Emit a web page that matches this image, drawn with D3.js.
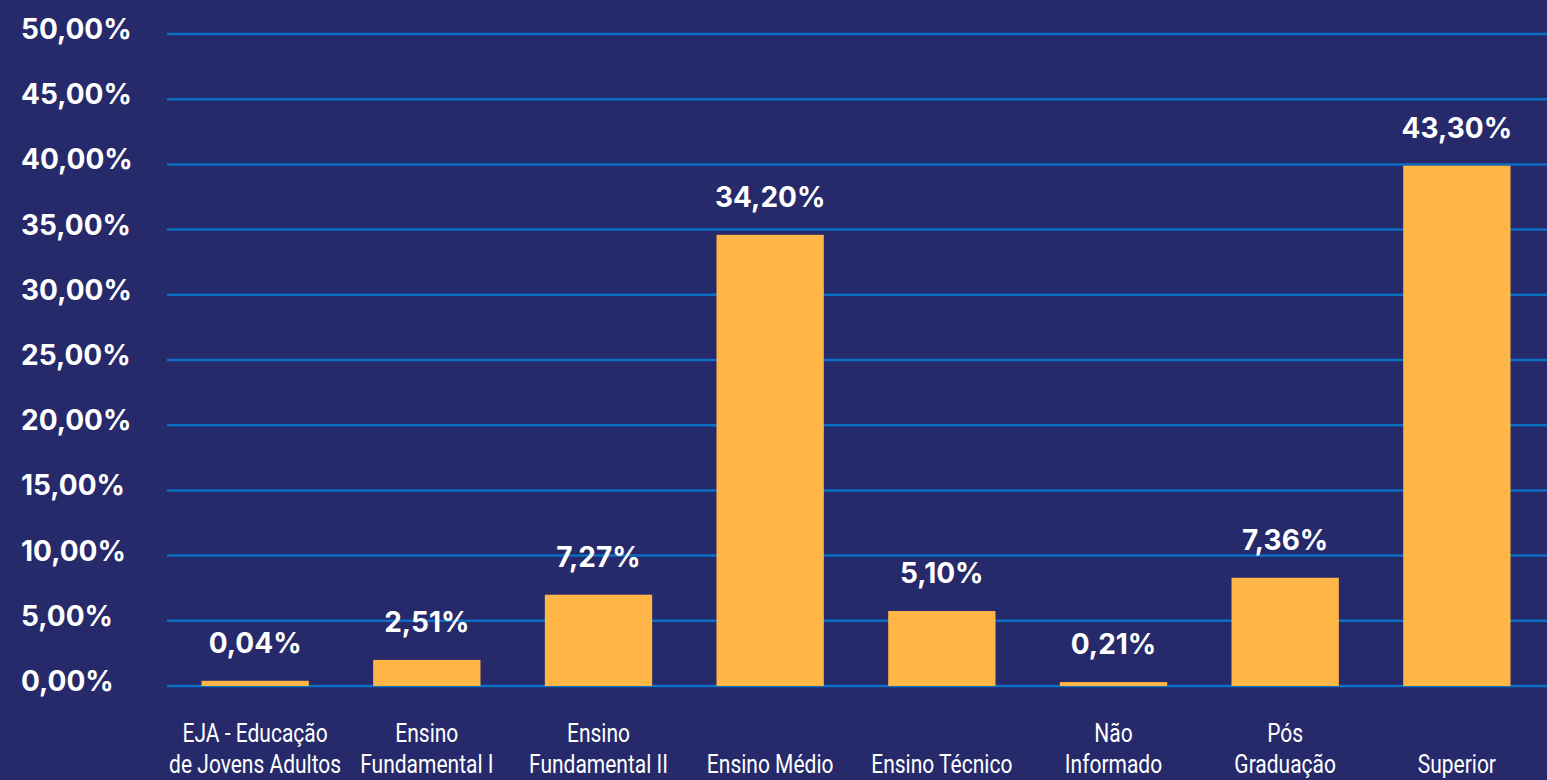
<!DOCTYPE html>
<html>
<head>
<meta charset="utf-8">
<script src="https://cdn.jsdelivr.net/npm/d3@7/dist/d3.min.js"></script>
<style>
  html, body { margin: 0; padding: 0; background: #262a6b; overflow: hidden; }
  svg { display: block; }
</style>
</head>
<body>
<svg id="chart" width="1547" height="780"></svg>
<script>
// ---- data ----
const categories = [
  "EJA - Educação de Jovens Adultos",
  "Ensino Fundamental I",
  "Ensino Fundamental II",
  "Ensino Médio",
  "Ensino Técnico",
  "Não Informado",
  "Pós Graduação",
  "Superior"
];
// category labels split into lines as shown
const categoryLines = [
  ["EJA - Educação", "de Jovens Adultos"],
  ["Ensino", "Fundamental I"],
  ["Ensino", "Fundamental II"],
  ["Ensino Médio"],
  ["Ensino Técnico"],
  ["Não", "Informado"],
  ["Pós", "Graduação"],
  ["Superior"]
];
// printed value labels
const valueLabels = ["0,04%", "2,51%", "7,27%", "34,20%", "5,10%", "0,21%", "7,36%", "43,30%"];
// bar heights as drawn in the picture (percent)
const barValues = [0.4, 2.0, 7.0, 34.6, 5.75, 0.3, 8.3, 39.9];
const yTicks = [0, 5, 10, 15, 20, 25, 30, 35, 40, 45, 50];
const yTickLabels = ["0,00%", "5,00%", "10,00%", "15,00%", "20,00%", "25,00%", "30,00%", "35,00%", "40,00%", "45,00%", "50,00%"];

// ---- layout ----
const W = 1547, H = 780;
const svg = d3.select("#chart");

const y = d3.scaleLinear().domain([0, 50]).range([686, 34]);
const x = d3.scaleBand().domain(categories).range([150, 1562]).paddingInner(0.375).paddingOuter(0.3);

// gridlines
svg.append("g").selectAll("line").data(yTicks).join("line")
  .attr("x1", 167).attr("x2", W)
  .attr("y1", d => y(d)).attr("y2", d => y(d))
  .attr("stroke", "#0b6fc2").attr("stroke-width", 2.5);

// y tick labels
svg.append("g").selectAll("text").data(yTicks).join("text")
  .attr("x", 21).attr("y", d => y(d) + 5)
  .attr("fill", "#ffffff")
  .attr("font-family", "Inter, 'Open Sans', sans-serif")
  .attr("font-weight", 700).attr("font-size", 28)
  .text((d, i) => yTickLabels[i]);

// bars
svg.append("g").selectAll("rect").data(categories).join("rect")
  .attr("x", d => x(d))
  .attr("width", x.bandwidth())
  .attr("y", (d, i) => y(barValues[i]))
  .attr("height", (d, i) => y(0) - y(barValues[i]))
  .attr("fill", "#ffb646");

// value labels
svg.append("g").selectAll("text").data(categories).join("text")
  .attr("x", d => x(d) + x.bandwidth() / 2)
  .attr("y", (d, i) => y(barValues[i]) - 28)
  .attr("text-anchor", "middle")
  .attr("fill", "#ffffff")
  .attr("font-family", "Inter, 'Open Sans', sans-serif")
  .attr("font-weight", 700).attr("font-size", 28)
  .text((d, i) => valueLabels[i]);

// category labels (bottom-aligned), condensed look via horizontal scaling
const sx = 0.84;
const cat = svg.append("g").attr("transform", `scale(${sx},1)`)
  .selectAll("text").data(categories).join("text")
  .attr("text-anchor", "middle")
  .attr("fill", "#ffffff")
  .attr("font-family", "Roboto, sans-serif")
  .attr("font-size", 25);
cat.each(function (d, i) {
  const lines = categoryLines[i];
  const cx = (x(d) + x.bandwidth() / 2) / sx;
  d3.select(this).selectAll("tspan").data(lines).join("tspan")
    .attr("x", cx)
    .attr("y", (l, j) => 773 - (lines.length - 1 - j) * 31)
    .text(l => l);
});
</script>
</body>
</html>
